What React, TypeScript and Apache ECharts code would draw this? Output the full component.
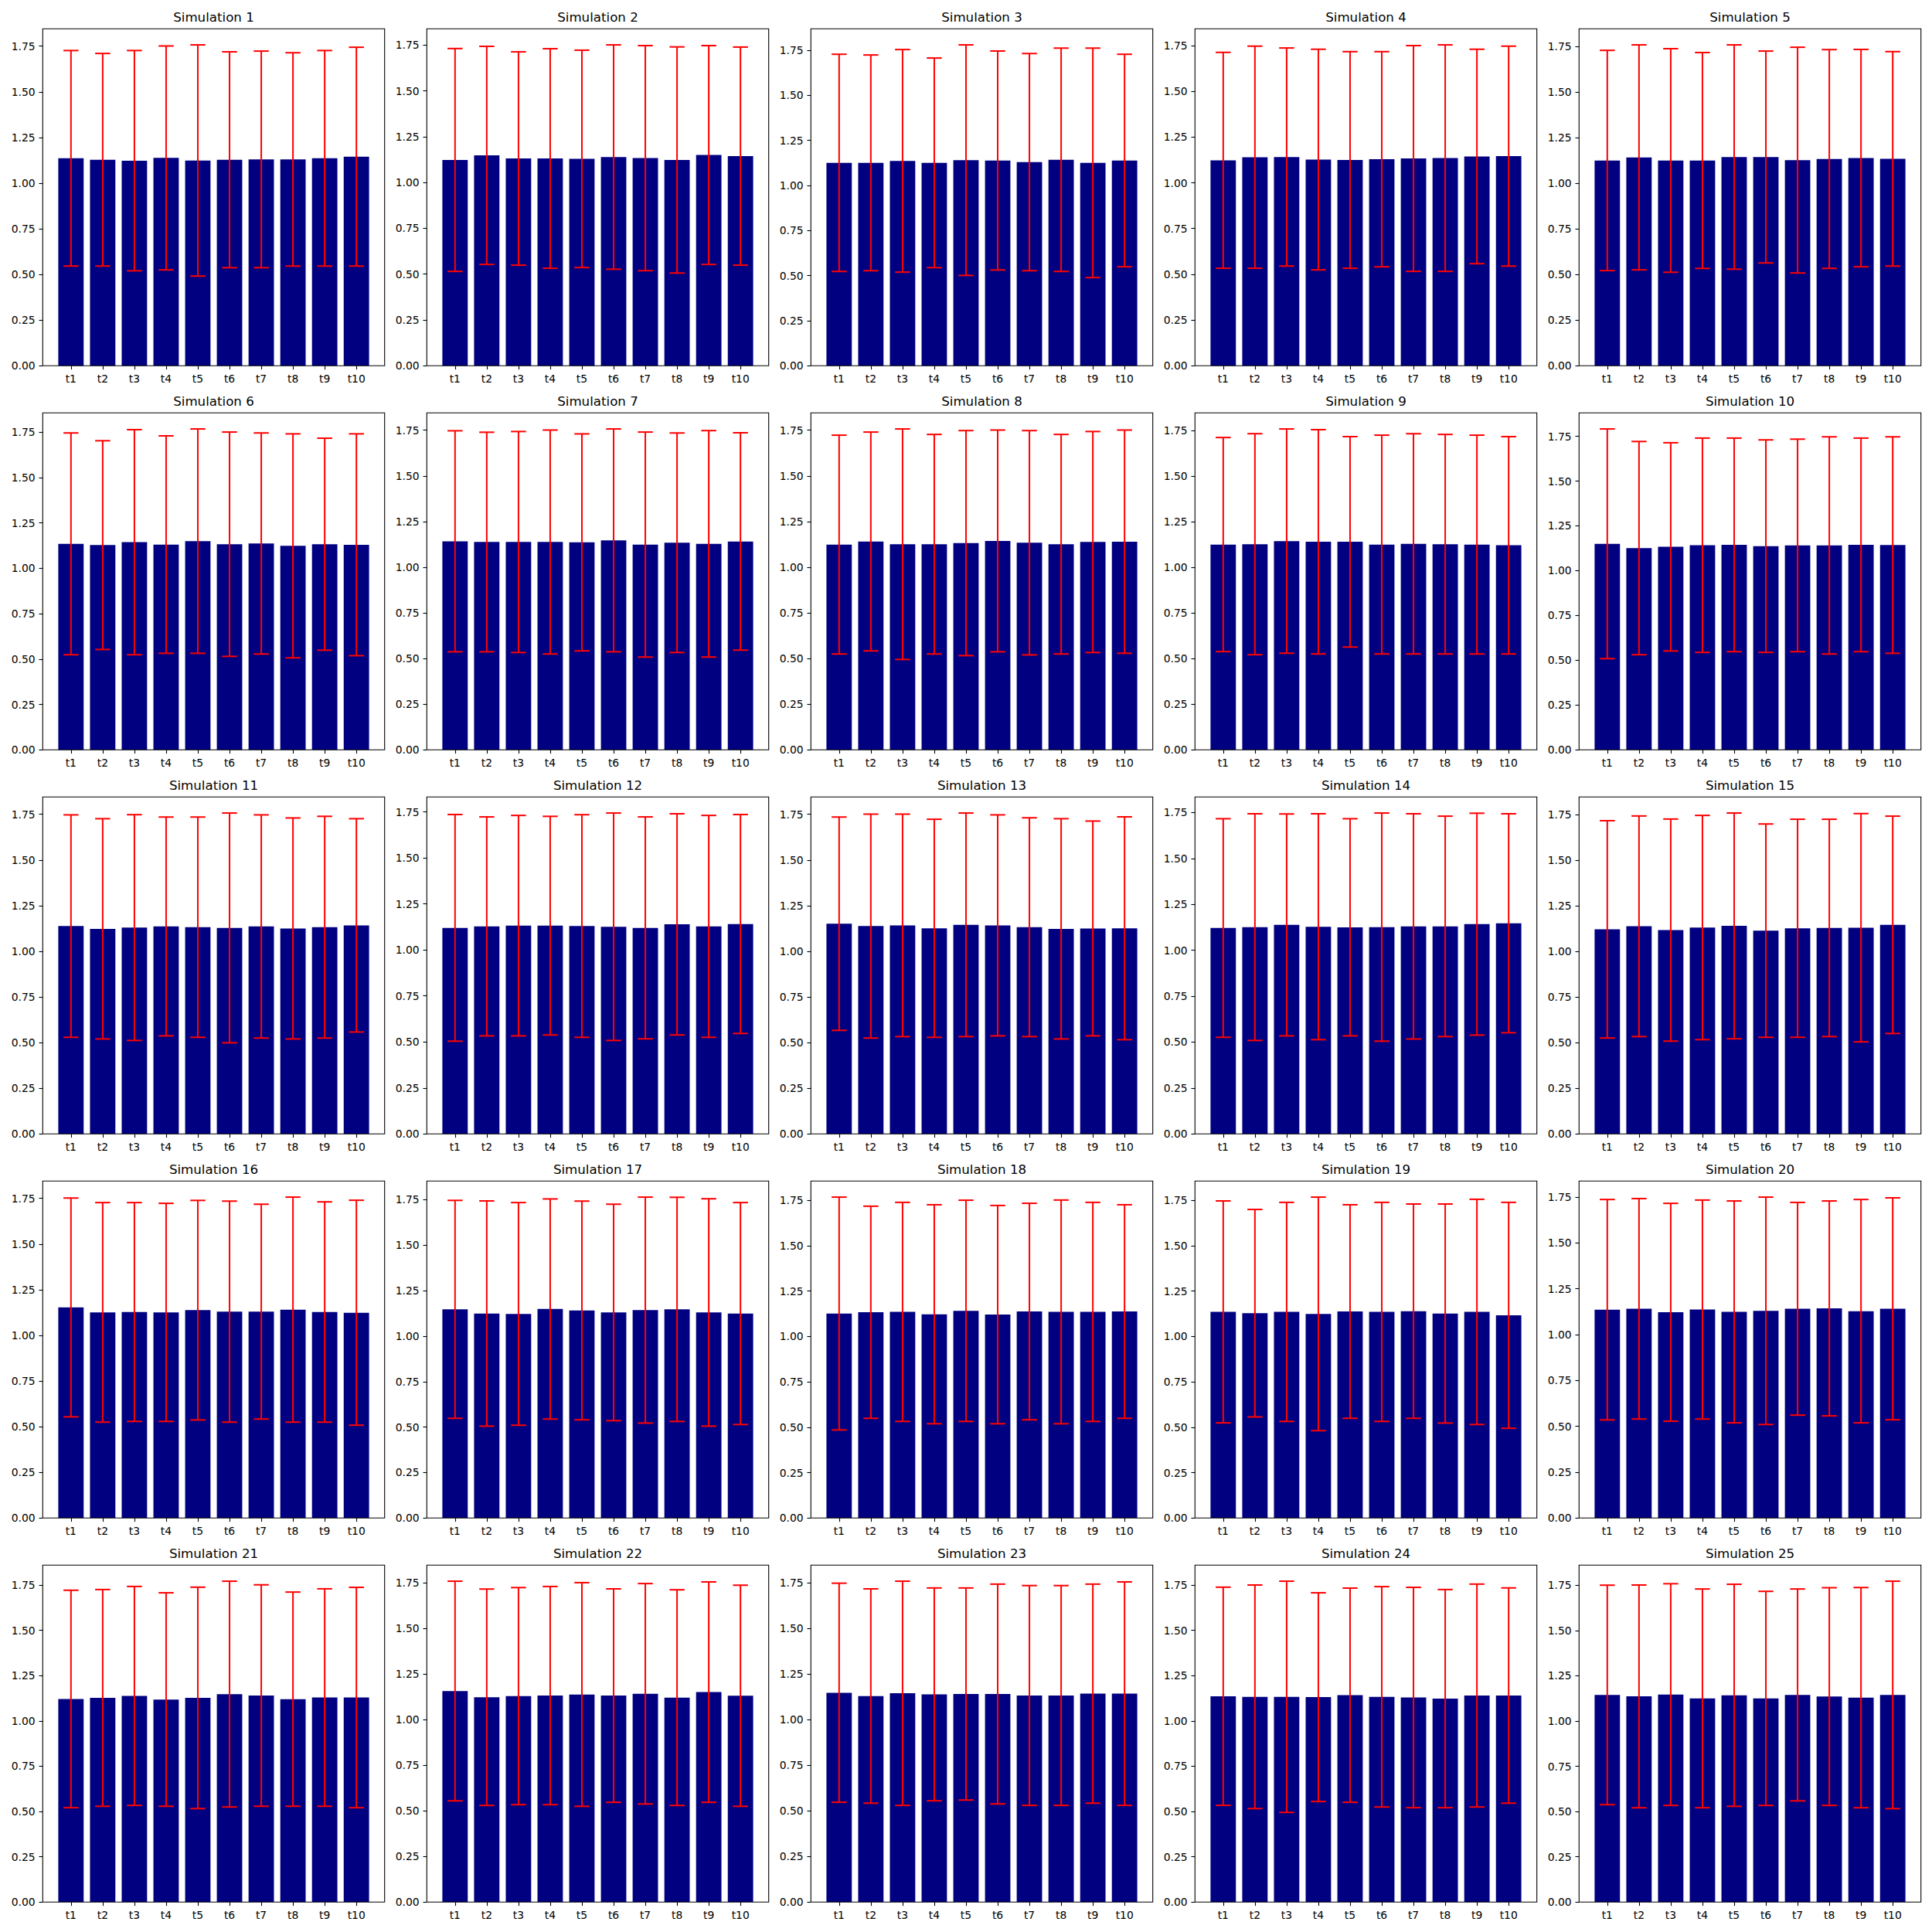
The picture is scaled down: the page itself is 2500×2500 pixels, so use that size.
import React, { useEffect, useRef } from "react";
import * as echarts from "echarts";

// ---- data ----
const CATEGORIES = ["t1", "t2", "t3", "t4", "t5", "t6", "t7", "t8", "t9", "t10"];
const Y_TICKS = [0, 0.25, 0.5, 0.75, 1.0, 1.25, 1.5, 1.75];

// bar heights (mean) per simulation, t1..t10
const MEANS: number[][] = [
  [1.136, 1.128, 1.123, 1.138, 1.124, 1.128, 1.130, 1.130, 1.136, 1.145], // 1
  [1.123, 1.148, 1.131, 1.131, 1.129, 1.139, 1.133, 1.123, 1.150, 1.144], // 2
  [1.125, 1.125, 1.136, 1.125, 1.140, 1.138, 1.129, 1.142, 1.125, 1.138], // 3
  [1.123, 1.140, 1.141, 1.127, 1.125, 1.129, 1.133, 1.135, 1.144, 1.146], // 4
  [1.126, 1.143, 1.126, 1.126, 1.145, 1.145, 1.128, 1.134, 1.139, 1.135], // 5
  [1.135, 1.128, 1.144, 1.131, 1.150, 1.133, 1.137, 1.124, 1.133, 1.130], // 6
  [1.142, 1.138, 1.138, 1.138, 1.136, 1.147, 1.124, 1.134, 1.128, 1.141], // 7
  [1.124, 1.141, 1.126, 1.126, 1.132, 1.144, 1.134, 1.126, 1.138, 1.140], // 8
  [1.126, 1.128, 1.145, 1.141, 1.141, 1.126, 1.130, 1.128, 1.126, 1.122], // 9
  [1.150, 1.126, 1.133, 1.142, 1.144, 1.137, 1.141, 1.141, 1.144, 1.143], // 10
  [1.138, 1.123, 1.130, 1.136, 1.132, 1.128, 1.136, 1.125, 1.132, 1.142], // 11
  [1.120, 1.128, 1.132, 1.132, 1.130, 1.126, 1.120, 1.139, 1.128, 1.141], // 12
  [1.151, 1.138, 1.142, 1.126, 1.145, 1.142, 1.132, 1.123, 1.125, 1.126], // 13
  [1.121, 1.126, 1.138, 1.128, 1.125, 1.126, 1.130, 1.130, 1.142, 1.147], // 14
  [1.122, 1.139, 1.118, 1.132, 1.141, 1.115, 1.128, 1.130, 1.131, 1.147], // 15
  [1.153, 1.126, 1.128, 1.126, 1.138, 1.130, 1.130, 1.141, 1.128, 1.124], // 16
  [1.147, 1.124, 1.122, 1.149, 1.141, 1.130, 1.143, 1.147, 1.130, 1.124], // 17
  [1.126, 1.133, 1.135, 1.122, 1.141, 1.120, 1.137, 1.135, 1.135, 1.137], // 18
  [1.135, 1.128, 1.135, 1.124, 1.137, 1.135, 1.139, 1.126, 1.135, 1.116], // 19
  [1.136, 1.141, 1.122, 1.137, 1.124, 1.130, 1.141, 1.143, 1.128, 1.141], // 20
  [1.121, 1.127, 1.138, 1.118, 1.127, 1.148, 1.140, 1.120, 1.129, 1.129], // 21
  [1.157, 1.123, 1.129, 1.132, 1.138, 1.132, 1.142, 1.121, 1.151, 1.131], // 22
  [1.147, 1.129, 1.144, 1.138, 1.140, 1.140, 1.132, 1.132, 1.142, 1.142], // 23
  [1.136, 1.133, 1.133, 1.131, 1.142, 1.133, 1.129, 1.123, 1.140, 1.140], // 24
  [1.144, 1.136, 1.146, 1.125, 1.142, 1.125, 1.144, 1.135, 1.129, 1.144], // 25
];

// symmetric error bar half-lengths per simulation, t1..t10
const ERRORS: number[][] = [
  [0.590, 0.582, 0.603, 0.613, 0.633, 0.591, 0.593, 0.584, 0.590, 0.599], // 1
  [0.608, 0.595, 0.582, 0.599, 0.593, 0.612, 0.614, 0.617, 0.597, 0.595], // 2
  [0.602, 0.598, 0.617, 0.581, 0.639, 0.607, 0.602, 0.619, 0.636, 0.589], // 3
  [0.590, 0.607, 0.596, 0.603, 0.592, 0.588, 0.617, 0.619, 0.586, 0.601], // 4
  [0.604, 0.617, 0.613, 0.592, 0.615, 0.581, 0.619, 0.600, 0.596, 0.588], // 5
  [0.611, 0.575, 0.620, 0.599, 0.618, 0.618, 0.609, 0.617, 0.584, 0.611], // 6
  [0.605, 0.601, 0.605, 0.613, 0.594, 0.610, 0.616, 0.601, 0.620, 0.595], // 7
  [0.599, 0.599, 0.631, 0.601, 0.616, 0.607, 0.614, 0.601, 0.605, 0.611], // 8
  [0.587, 0.606, 0.615, 0.615, 0.577, 0.600, 0.604, 0.602, 0.600, 0.596], // 9
  [0.641, 0.595, 0.581, 0.598, 0.596, 0.593, 0.593, 0.606, 0.596, 0.604], // 10
  [0.609, 0.603, 0.618, 0.599, 0.603, 0.629, 0.611, 0.605, 0.607, 0.584], // 11
  [0.616, 0.595, 0.599, 0.594, 0.605, 0.618, 0.603, 0.601, 0.603, 0.595], // 12
  [0.584, 0.613, 0.609, 0.597, 0.612, 0.605, 0.599, 0.603, 0.588, 0.610], // 13
  [0.595, 0.617, 0.604, 0.615, 0.591, 0.621, 0.613, 0.600, 0.604, 0.596], // 14
  [0.596, 0.605, 0.609, 0.615, 0.619, 0.585, 0.598, 0.596, 0.626, 0.596], // 15
  [0.599, 0.601, 0.599, 0.597, 0.601, 0.605, 0.588, 0.616, 0.603, 0.616], // 16
  [0.599, 0.619, 0.612, 0.605, 0.601, 0.595, 0.621, 0.616, 0.625, 0.610], // 17
  [0.641, 0.584, 0.603, 0.603, 0.609, 0.601, 0.596, 0.616, 0.603, 0.588], // 18
  [0.611, 0.571, 0.603, 0.643, 0.588, 0.603, 0.590, 0.603, 0.620, 0.622], // 19
  [0.601, 0.601, 0.594, 0.597, 0.605, 0.620, 0.580, 0.586, 0.609, 0.605], // 20
  [0.600, 0.598, 0.604, 0.589, 0.611, 0.623, 0.611, 0.591, 0.600, 0.608], // 21
  [0.602, 0.593, 0.595, 0.598, 0.613, 0.585, 0.604, 0.591, 0.604, 0.606], // 22
  [0.600, 0.587, 0.614, 0.583, 0.581, 0.602, 0.602, 0.602, 0.600, 0.612], // 23
  [0.602, 0.617, 0.638, 0.576, 0.591, 0.608, 0.608, 0.602, 0.615, 0.594], // 24
  [0.606, 0.615, 0.612, 0.604, 0.613, 0.591, 0.585, 0.601, 0.608, 0.628], // 25
];

const TITLES = MEANS.map((_, i) => `Simulation ${i + 1}`);

// ---- style / layout ----
const BAR_COLOR = "#000080";
const ERR_COLOR = "#ff0000";
const FONT = "DejaVu Sans";
const TITLE_SIZE = 16.67;
const TICK_SIZE = 13.89;

const COLS = 5;
const AX_L0 = 55.3;
const AX_T0 = 37.3;
const STEP = 497;
const AX_W = 442.4;
const AX_H = 436;
// matplotlib x-limits: -0.89 .. 9.89 (10.78 units); category bands span -0.5 .. 9.5
const X_SPAN = 10.78;
const PAD_X = (AX_W * 0.39) / X_SPAN;
const TICK_LEN = 4.86;
const LABEL_MARGIN = 9.7;
const CAP_HALF = 9.72;

export default function App() {
  const ref = useRef<HTMLDivElement>(null);

  useEffect(() => {
    document.body.style.margin = "0";
    if (!ref.current) return;
    const chart = echarts.init(ref.current, undefined, { renderer: "svg" });

    const grids: any[] = [];
    const xAxes: any[] = [];
    const yAxes: any[] = [];
    const series: any[] = [];
    const elements: any[] = [];

    MEANS.forEach((means, i) => {
      const errs = ERRORS[i];
      const r = Math.floor(i / COLS);
      const c = i % COLS;
      const L = AX_L0 + STEP * c;
      const T = AX_T0 + STEP * r;
      const hiMax = Math.max(...means.map((m, j) => m + errs[j]));
      const yMax = hiMax * 1.05;

      grids.push({
        left: L + PAD_X,
        top: T,
        width: AX_W - 2 * PAD_X,
        height: AX_H,
        containLabel: false,
        outerBoundsMode: "none",
      });

      xAxes.push({
        type: "category",
        gridIndex: i,
        data: CATEGORIES,
        axisLine: { show: false },
        axisTick: {
          show: true,
          alignWithLabel: true,
          length: TICK_LEN,
          lineStyle: { color: "#000", width: 1.1 },
        },
        axisLabel: {
          interval: 0,
          color: "#000",
          fontFamily: FONT,
          fontSize: TICK_SIZE,
          margin: LABEL_MARGIN,
        },
        splitLine: { show: false },
      });

      yAxes.push({
        type: "value",
        gridIndex: i,
        min: 0,
        max: yMax,
        offset: PAD_X,
        axisLine: { show: false },
        axisTick: {
          show: true,
          length: TICK_LEN,
          customValues: Y_TICKS,
          lineStyle: { color: "#000", width: 1.1 },
        },
        axisLabel: {
          customValues: Y_TICKS,
          formatter: (v: number) => v.toFixed(2),
          color: "#000",
          fontFamily: FONT,
          fontSize: TICK_SIZE,
          margin: LABEL_MARGIN,
        },
        splitLine: { show: false },
      });

      series.push({
        type: "bar",
        xAxisIndex: i,
        yAxisIndex: i,
        data: means,
        barWidth: "80%",
        itemStyle: { color: BAR_COLOR },
        silent: true,
        z: 2,
      });

      series.push({
        type: "custom",
        xAxisIndex: i,
        yAxisIndex: i,
        silent: true,
        z: 3,
        encode: { x: 0, y: [1, 2] },
        data: means.map((m, j) => [j, m - errs[j], m + errs[j]]),
        renderItem: (params: any, api: any) => {
          const x = api.value(0);
          const lo = api.coord([x, api.value(1)]);
          const hi = api.coord([x, api.value(2)]);
          const style = { stroke: ERR_COLOR, lineWidth: 2 };
          return {
            type: "group",
            children: [
              { type: "line", shape: { x1: hi[0], y1: hi[1], x2: lo[0], y2: lo[1] }, style },
              { type: "line", shape: { x1: hi[0] - CAP_HALF, y1: hi[1], x2: hi[0] + CAP_HALF, y2: hi[1] }, style },
              { type: "line", shape: { x1: lo[0] - CAP_HALF, y1: lo[1], x2: lo[0] + CAP_HALF, y2: lo[1] }, style },
            ],
          };
        },
      });

      elements.push({
        type: "rect",
        silent: true,
        z: 100,
        shape: { x: L, y: T, width: AX_W, height: AX_H },
        style: { fill: "none", stroke: "#000", lineWidth: 1.1 },
      });
      elements.push({
        type: "text",
        silent: true,
        z: 100,
        x: L + AX_W / 2,
        y: T - 14.5,
        style: {
          text: TITLES[i],
          align: "center",
          verticalAlign: "middle",
          fontFamily: FONT,
          fontSize: TITLE_SIZE,
          fill: "#000",
        },
      });
    });

    chart.setOption({
      animation: false,
      backgroundColor: "#ffffff",
      grid: grids,
      xAxis: xAxes,
      yAxis: yAxes,
      series,
      graphic: { elements },
    });

    return () => {
      chart.dispose();
    };
  }, []);

  return <div ref={ref} style={{ width: 2500, height: 2500 }} />;
}
